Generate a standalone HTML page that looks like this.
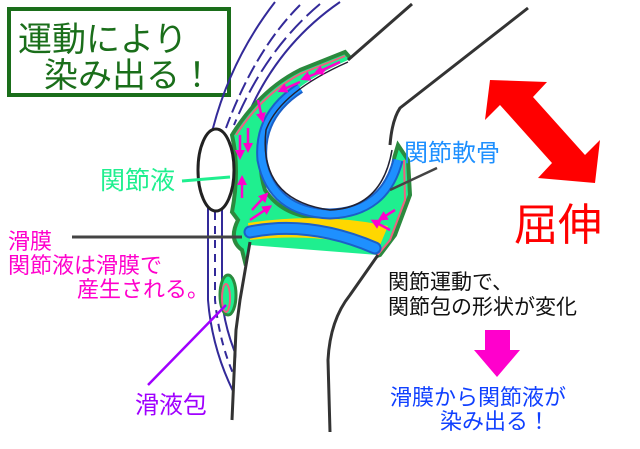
<!DOCTYPE html>
<html><head><meta charset="utf-8"><style>
html,body{margin:0;padding:0;background:#fff;}
svg{display:block;}
text{font-family:"Liberation Sans","Noto Sans CJK JP",sans-serif;}
</style></head><body>
<svg width="640" height="449" viewBox="0 0 640 449" xmlns="http://www.w3.org/2000/svg">
<defs>
<marker id="ah" markerWidth="4" markerHeight="4" refX="2" refY="2" orient="auto" markerUnits="strokeWidth"><path d="M0,0 L4,2 L0,4 Z" fill="#ff00cc"/></marker>
</defs>
<!-- title box -->
<rect x="9" y="9" width="220" height="86" fill="#fff" stroke="#1a6e1a" stroke-width="4"/>
<text x="18" y="51" font-size="34" fill="#1a6e1a">運動により</text>
<text x="44" y="87" font-size="34" fill="#1a6e1a">染み出る！</text>

<!-- tendon lines above patella -->
<g stroke="#332a99" stroke-width="2" fill="none">
<path d="M275,2 Q230,60 212,132"/>
<path d="M340,2 Q270,50 240,135"/>
<path d="M300,5 Q255,50 226,128" stroke-dasharray="14,5"/>
<path d="M320,4 Q265,50 234,125" stroke-dasharray="18,6"/>
<path d="M208,208 L208,300 Q212,350 235,395"/>
<path d="M222,208 L222,300 Q226,340 248,380"/>
<path d="M215,212 L215,300 Q220,350 240,388" stroke-dasharray="8,6"/>
</g>

<!-- synovial green region -->
<path d="M345,52 L352,60 L330,80 Q285,95 268,120 Q255,160 265,190 Q285,220 330,218 Q380,214 392,165 L398,145 L408,160 L410,195 L395,235 L380,255 L360,262 L335,300 L325,300 L345,262 L255,250 L245,262 L242,250 Q228,240 238,220 L232,212 Q240,170 232,135 Q260,90 300,70 Z" fill="#1fef8f" stroke="#2b8a3e" stroke-width="4"/>
<path d="M345,56 L300,74 Q262,95 236,135" fill="none" stroke="#f06080" stroke-width="2"/>
<path d="M404,160 L405,200 L390,240 L375,258" fill="none" stroke="#f06080" stroke-width="2"/>

<!-- meniscus -->
<path d="M248,223 Q320,212 388,226 L378,250 Q320,232 250,240 Z" fill="#ffd700"/>

<!-- femur -->
<path d="M412,4 L348,60 Q280,90 265,130 Q258,200 330,212 Q385,210 392,160 L398,108 L528,8 L640,0 L412,0 Z" fill="#fff"/>
<path d="M300,88 Q258,115 262,160 Q272,212 330,214 Q385,212 398,160" fill="none" stroke="#1a60c8" stroke-width="11"/>
<path d="M300,88 Q258,115 262,160 Q272,212 330,214 Q385,212 398,160" fill="none" stroke="#1e90ff" stroke-width="7"/>
<path d="M412,4 L348,60" stroke="#333" stroke-width="3" fill="none"/>
<path d="M528,8 L400,108 Q392,120 390,145" stroke="#333" stroke-width="3" fill="none"/>
<path d="M348,62 Q280,92 266,130 Q258,200 330,210 Q382,208 392,150" fill="none" stroke="#223" stroke-width="1.5"/>

<!-- tibia -->
<path d="M250,245 L238,330 L232,420 L328,432 L330,330 L345,300 L378,255 Z" fill="#fff"/>
<path d="M250,232 Q310,220 375,248" fill="none" stroke="#1a60c8" stroke-width="13" stroke-linecap="round"/>
<path d="M250,232 Q310,220 375,248" fill="none" stroke="#1e90ff" stroke-width="9" stroke-linecap="round"/>
<path d="M250,242 L240,300 L236,330 L232,420" stroke="#333" stroke-width="3" fill="none"/>
<path d="M378,255 L350,295 Q330,320 328,360 L330,432" stroke="#333" stroke-width="3" fill="none"/>

<!-- bursa -->
<ellipse cx="228" cy="295" rx="8" ry="20" fill="#1fef8f" stroke="#2b8a3e" stroke-width="3"/>
<ellipse cx="226" cy="298" rx="4" ry="14" fill="none" stroke="#f06080" stroke-width="2"/>

<!-- patella -->
<ellipse cx="216" cy="170" rx="18" ry="41" fill="#fff" stroke="#222" stroke-width="3"/>

<!-- pink arrows -->
<g stroke="#ff00cc" stroke-width="2.5" marker-end="url(#ah)">
<line x1="340" y1="62" x2="318" y2="72"/>
<line x1="325" y1="70" x2="305" y2="78"/>
<line x1="300" y1="82" x2="282" y2="90"/>
<line x1="258" y1="100" x2="262" y2="118"/>
<line x1="248" y1="128" x2="248" y2="148"/>
<line x1="240" y1="135" x2="240" y2="155"/>
<line x1="242" y1="198" x2="242" y2="180"/>
<line x1="252" y1="210" x2="265" y2="196"/>
<line x1="250" y1="220" x2="268" y2="208"/>
<line x1="395" y1="210" x2="382" y2="218"/>
<line x1="390" y1="230" x2="375" y2="222"/>
</g>

<!-- label lines -->
<line x1="182" y1="181" x2="230" y2="177" stroke="#1fef8f" stroke-width="3"/>
<line x1="72" y1="237" x2="242" y2="237" stroke="#444" stroke-width="3"/>
<line x1="437" y1="168" x2="390" y2="190" stroke="#444" stroke-width="2.5"/>
<line x1="148" y1="385" x2="226" y2="305" stroke="#a000ff" stroke-width="2.5"/>

<!-- red double arrow -->
<polygon points="490,80 547,82 533,97 585,155 600,140 595,183 538,178 552,163 500,105 485,120" fill="#ff0000"/>

<!-- pink down arrow -->
<polygon points="485,330 510,330 510,350 520,350 497,377 474,350 485,350" fill="#ff00cc"/>

<!-- labels -->
<text x="100" y="189" font-size="25" fill="#1fef8f">関節液</text>
<text x="404" y="161" font-size="24" fill="#1e90ff">関節軟骨</text>
<text x="514" y="240" font-size="44" fill="#ff0000">屈伸</text>
<text x="8" y="249" font-size="22" fill="#ff00cc">滑膜</text>
<text x="8" y="273" font-size="22" fill="#ff00cc">関節液は滑膜で</text>
<text x="77" y="297" font-size="22" fill="#ff00cc">産生される。</text>
<text x="388" y="289" font-size="21" fill="#111">関節運動で、</text>
<text x="388" y="314" font-size="21" fill="#111">関節包の形状が変化</text>
<text x="390" y="405" font-size="22" fill="#1040ff">滑膜から関節液が</text>
<text x="440" y="429" font-size="22" fill="#1040ff">染み出る！</text>
<text x="135" y="413" font-size="24" fill="#a000ff">滑液包</text>
</svg>
</body></html>
